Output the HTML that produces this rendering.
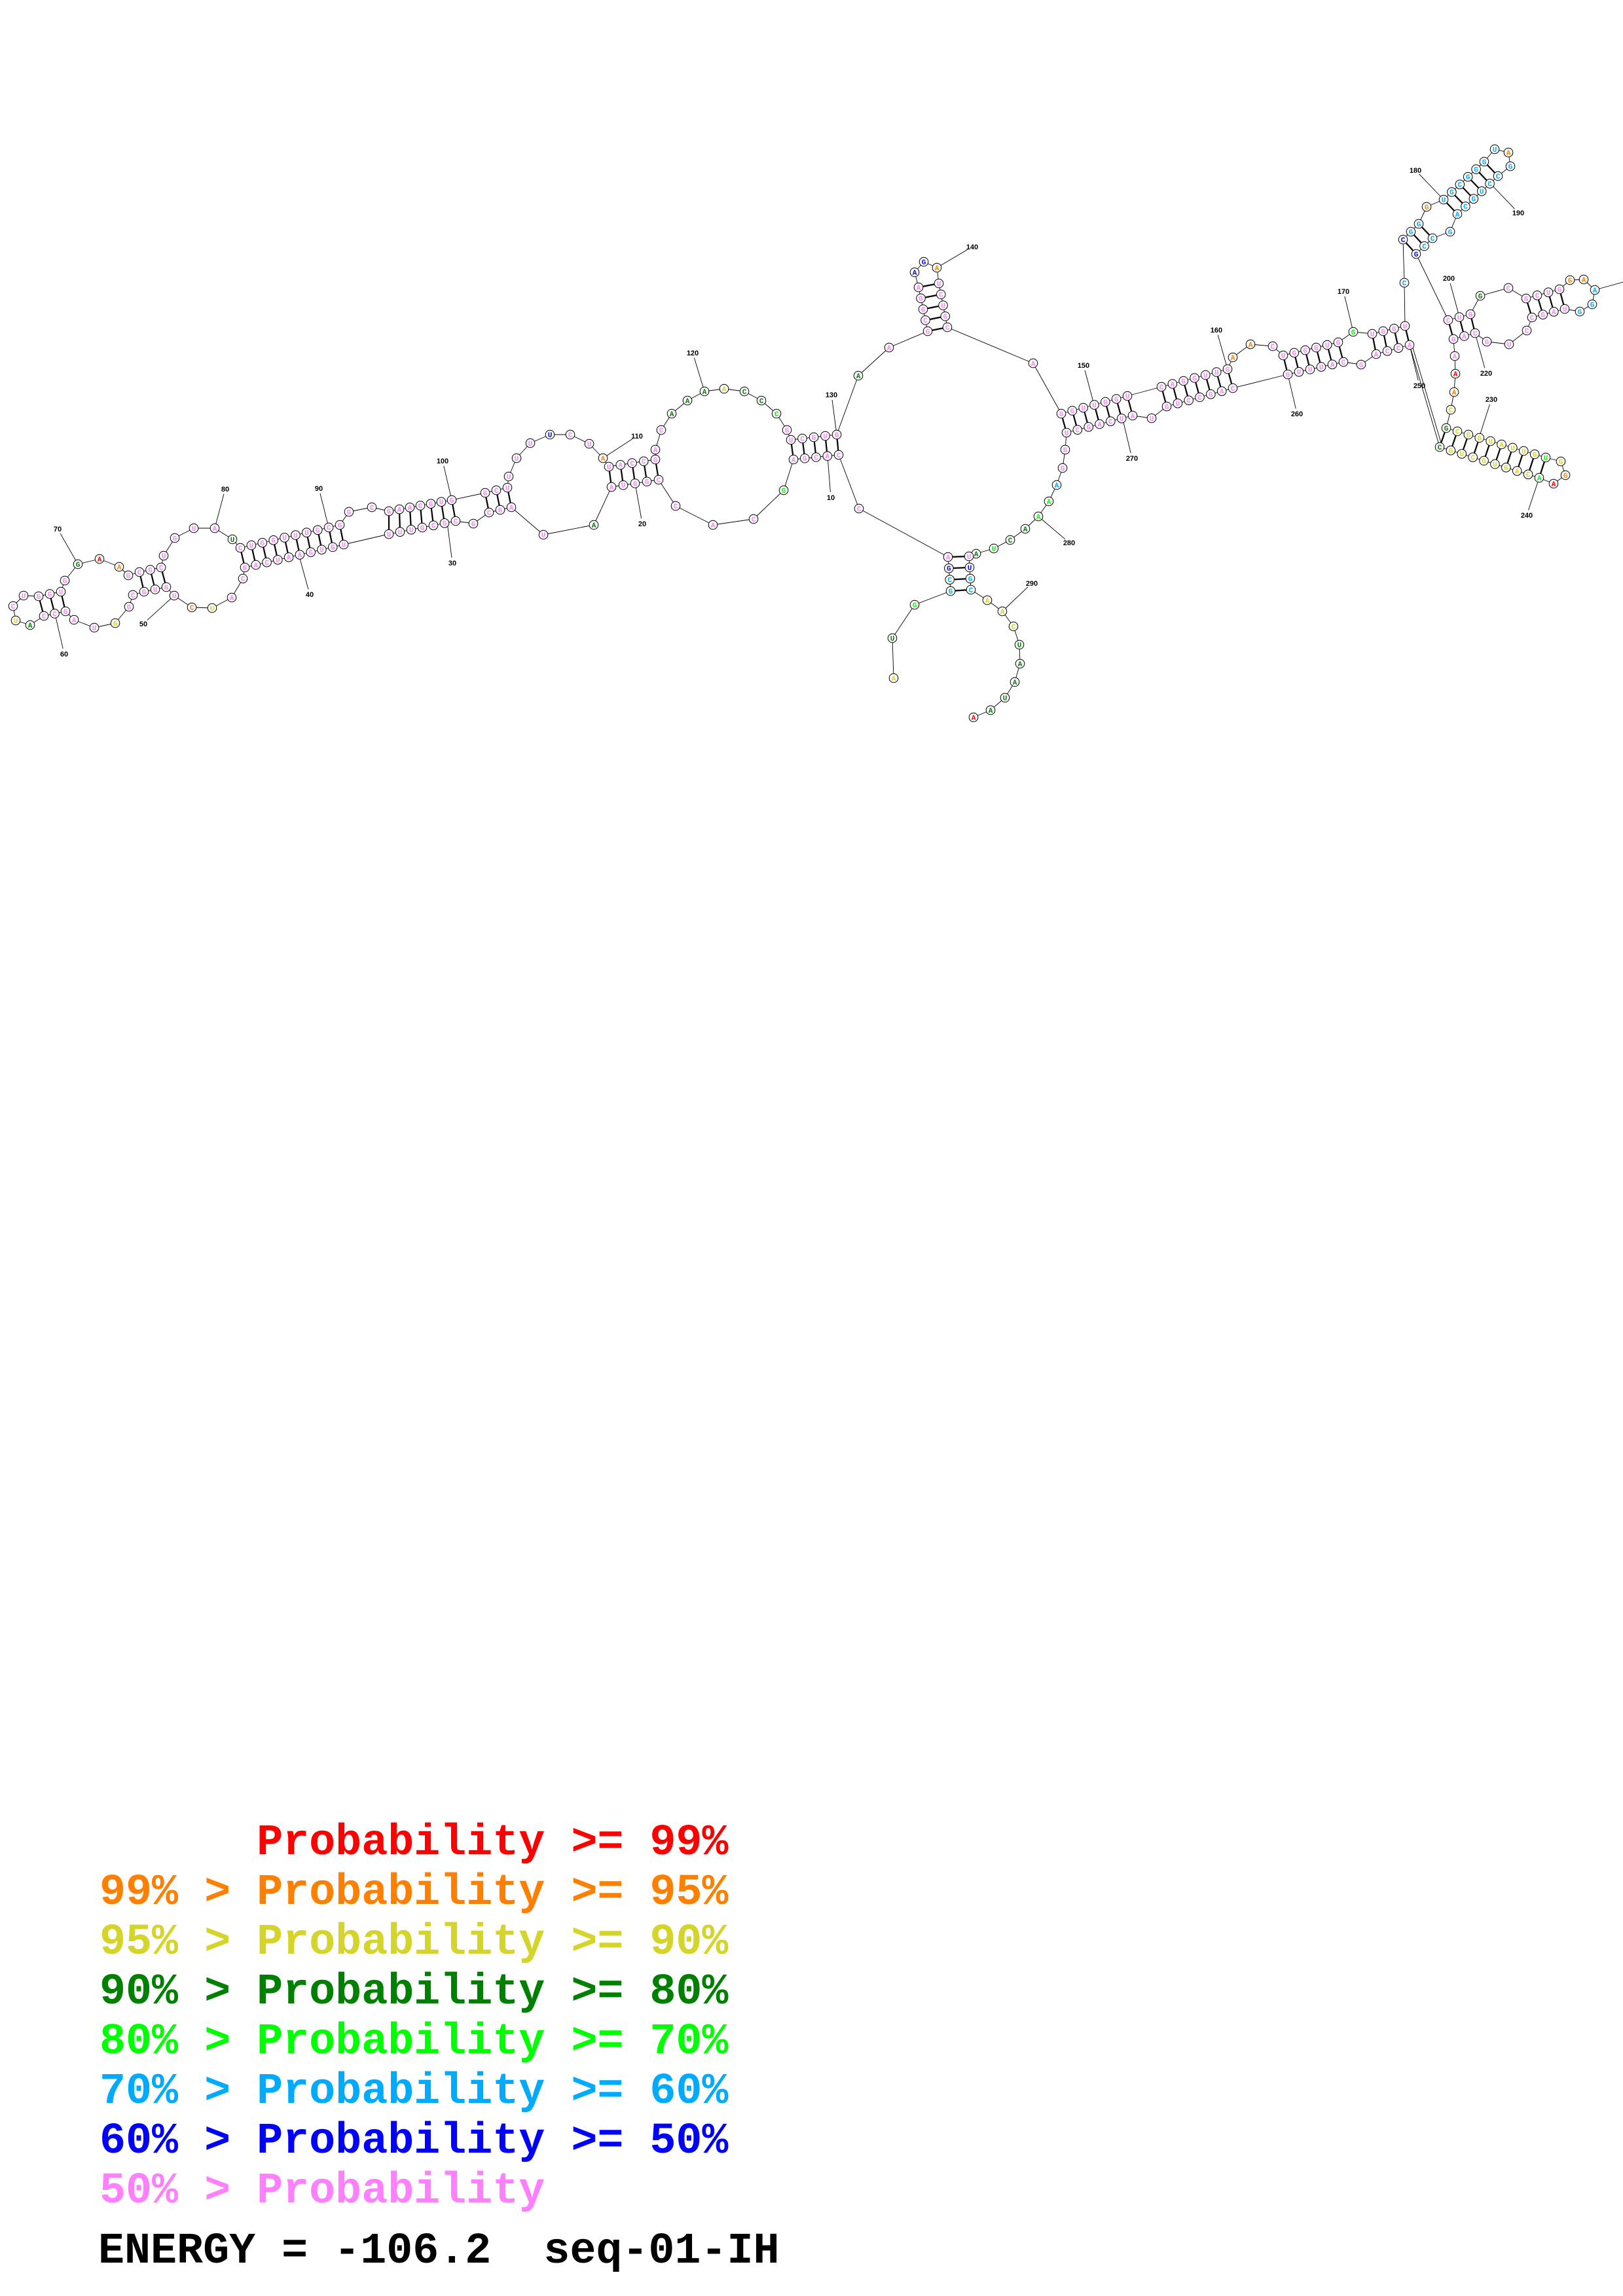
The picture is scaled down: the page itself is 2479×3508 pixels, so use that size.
<!DOCTYPE html>
<html><head><meta charset="utf-8">
<style>
html,body{margin:0;padding:0;background:#fff;}
body{width:2479px;height:3508px;position:relative;overflow:hidden;}
#leg{position:absolute;left:152px;top:0;font-family:"Liberation Mono",monospace;font-weight:bold;font-size:66.7px;white-space:pre;line-height:1;}
#leg div{position:absolute;left:0;}
</style></head><body>
<svg id="s" width="2479" height="1200" style="position:absolute;left:0;top:0" xmlns="http://www.w3.org/2000/svg"></svg>
<div id="leg">
<div style="top:2783px;color:#ff0000">      Probability &gt;= 99%</div>
<div style="top:2859px;color:#ff8000">99% &gt; Probability &gt;= 95%</div>
<div style="top:2935px;color:#d4d42a">95% &gt; Probability &gt;= 90%</div>
<div style="top:3011px;color:#008000">90% &gt; Probability &gt;= 80%</div>
<div style="top:3087px;color:#00ff00">80% &gt; Probability &gt;= 70%</div>
<div style="top:3163px;color:#00aaff">70% &gt; Probability &gt;= 60%</div>
<div style="top:3239px;color:#0000ff">60% &gt; Probability &gt;= 50%</div>
<div style="top:3315px;color:#ff80ff">50% &gt; Probability</div>
<div style="top:3407px;color:#000;left:-2px">ENERGY = -106.2  seq-01-IH</div>
</div>
<script>
var C={r:"#ff0000",o:"#ff8000",y:"#d4d42a",g:"#008000",l:"#00ff00",s:"#00aaff",b:"#0000ff",p:"#ff80ff"};
var seq=[];var groups={};
function N(x,y,L,c){seq.push([x,y,L,c||"p"]);}
function S(name,x1,y1,x2,y2,Ls,cs){var n=Ls.length,arr=[];for(var i=0;i<n;i++){var t=n>1?i/(n-1):0;var nd=[x1+(x2-x1)*t,y1+(y2-y1)*t,Ls[i],cs?cs[i]:"p"];seq.push(nd);arr.push(nd);}groups[name]=arr;}
N(1365,1036,"A","y");N(1363,975,"U","g");N(1397,924,"G","l");
S("H1L",1452,903,1448,851,"GCGA","ssbp");
N(1312,777,"C");
S("H2B",1281,695,1212,702,"CACGA");
N(1197,749,"G","l");N(1151,793,"C");N(1089,802,"A");N(1032,773,"C");
S("H3B",1006,733,934,744,"CGGUA");
N(907,802,"A","g");N(830,817,"U");
S("H4B",781,775,747,783,"AGC");
N(723,800,"G");
S("H5B",696,796,594,816,"CGCGUUU");
S("H6B",525,832,374,867,"UGUGAAUCAG");
N(371,884,"C");N(354,913,"A");N(324,929,"U","y");N(293,928,"C","o");N(266,910,"U");
S("H7B",254,897,220,904,"GUG");
N(203,909,"C");N(197,927,"G");N(176,952,"G","y");N(144,959,"U");N(113,947,"A");
S("H8B",100,934,67,941,"GCC");
N(46,955,"A","g");N(24,948,"U","y");N(20,926,"C");N(36,910,"U");
S("H8T",59,911,93,904,"GGU");
N(99,887,"G");N(119,862,"G","g");N(152,854,"A","r");N(182,866,"A","o");N(196,879,"G");
S("H7T",213,874,246,867,"CGC");
N(250,849,"U");N(267,822,"G");N(296,807,"U");N(328,807,"A");N(355,824,"U","g");
S("H6T",367,837,519,802,"CUGGUUUGCG");
N(533,782,"G");N(568,775,"C");
S("H5T",594,781,690,764,"GAACGUG");
S("H4T",741,753,775,745,"GCU");
N(777,728,"U");N(789,700,"U");N(810,677,"U");N(840,664,"U","b");N(871,664,"C");N(900,678,"U");N(921,700,"A","o");
S("H3T",930,713,1001,702,"UACCG");
N(1001,687,"A");N(1010,657,"C");N(1026,632,"A","g");N(1050,612,"A","g");N(1076,598,"A","g");N(1106,594,"A","y");N(1137,598,"C","g");N(1163,612,"C","g");N(1186,632,"C","l");N(1202,657,"G");
S("H2T",1208,672,1278,664,"UCGUG");
N(1311,574,"A","g");N(1358,531,"A");
S("H9L",1417,506,1403,439,"GCGGA");
N(1397,416,"A","b");N(1411,400,"G","b");N(1431,409,"A","o");
S("H9R",1434,433,1447,500,"UCUGC");
N(1578,555,"A");
S("H10T",1621,632,1722,605,"GGUUGGU");
S("H11T",1774,591,1875,564,"CAGGUUG");
N(1883,546,"A","o");N(1910,526,"A","o");N(1944,529,"C");
S("H12T",1960,543,2044,523,"UGGGUG");
N(2067,507,"G","l");
S("H13T",2096,510,2146,498,"UGGU");
N(2145,432,"C","s");
S("H14L",2143,366,2167,342,"CGG","bss");
N(2179,316,"G","o");
S("H15L",2205,305,2267,247,"UGCGGG","ssssss");
N(2283,228,"U","s");N(2304,233,"A","o");N(2307,254,"G","s");
S("H15R",2288,269,2226,327,"CCUGCA","ssssss");
N(2215,354,"G","s");
S("H14R",2188,364,2163,388,"CCG","ssb");
S("H16T",2212,489,2246,480,"CUG");
N(2261,452,"G","g");N(2304,440,"C");
S("H17T",2331,456,2382,442,"GCUG");
N(2398,428,"G","o");N(2419,427,"A","o");N(2436,443,"A","s");N(2432,465,"G","s");N(2413,476,"G","s");
S("H17B",2390,472,2340,485,"UAGC");
N(2332,505,"C");N(2305,526,"U");N(2271,522,"G");
S("H16B",2253,509,2220,518,"CAG");
N(2222,544,"A");N(2223,571,"A","r");N(2221,599,"A","o");N(2216,626,"C","y");N(2209,654,"G","g");
S("H18T",2226,659,2361,699,"CGGUAUUGU","yyyyyyyyl");
N(2384,705,"G","y");N(2391,726,"G","o");N(2373,739,"A","r");
S("H18B",2351,730,2199,683,"ACAGUGCUGC","lyyyyyyyyg");
S("H13B",2153,527,2102,541,"ACCA");
N(2079,557,"G");
S("H12B",2052,553,1967,572,"CAUUUG");
S("H11B",1883,593,1782,621,"CAGCCUG");
N(1759,639,"U");
S("H10B",1730,635,1629,661,"AUCAGCU");
N(1627,687,"G");N(1623,715,"G");N(1614,741,"A","s");N(1602,766,"A","l");N(1586,789,"A","l");N(1566,808,"A","g");N(1543,825,"C","g");N(1518,838,"U","l");N(1491,846,"A","g");
S("H1R",1480,850,1483,901,"UUGC","pbss");
N(1508,917,"A","y");N(1531,934,"A","y");N(1548,957,"C","y");N(1557,985,"U","g");N(1558,1014,"A","g");N(1550,1042,"A","g");N(1535,1066,"U","g");N(1513,1085,"A","g");N(1487,1096,"A","r");

var svg=document.getElementById("s");var ns="http://www.w3.org/2000/svg";var out="";
function line(a,b,w){out+='<line x1="'+a[0]+'" y1="'+a[1]+'" x2="'+b[0]+'" y2="'+b[1]+'" stroke="#000" stroke-width="'+w+'"/>';}
for(var i=0;i<seq.length-1;i++)line(seq[i],seq[i+1],0.9);
var HP=[["H1L","H1R"],["H2B","H2T"],["H3B","H3T"],["H4B","H4T"],["H5B","H5T"],["H6B","H6T"],["H7B","H7T"],["H8B","H8T"],["H9L","H9R"],["H10T","H10B"],["H11T","H11B"],["H12T","H12B"],["H13T","H13B"],["H14L","H14R"],["H15L","H15R"],["H16T","H16B"],["H17T","H17B"]];
HP.forEach(function(p){var A=groups[p[0]],B=groups[p[1]],n=A.length;for(var i=0;i<n;i++)line(A[i],B[n-1-i],2.2);});
var T=groups.H18T,B=groups.H18B;for(var j=0;j<9;j++)line(B[j],T[8-j],2.2);line(B[9],[2209,654],2.2);
line([2157,528],[2203,683],0.9);line([2436,443],[2479,431],0.9);
var labs=[["100",676,704,690,764],["30",691,860,683,798],["40",473,908,456,846],["50",219,953,266,910],["60",98,999,84,938],["70",88,808,119,862],["80",344,747,328,807],["90",487,746,502,806],["110",973,666,921,700],["120",1058,539,1076,598],["130",1270,603,1278,664],["10",1269,760,1264,697],["20",981,800,970,738],["140",1485,377,1431,409],["150",1655,558,1671,618],["270",1729,700,1714,637],["280",1633,829,1586,789],["290",1576,891,1531,934],["160",1858,504,1875,564],["170",2052,445,2067,507],["260",1981,632,1967,572],["250",2168,589,2153,527],["180",2162,260,2205,305],["190",2319,325,2276,280],["200",2213,425,2229,484],["220",2270,570,2253,509],["230",2278,610,2259,669],["240",2332,787,2351,730]];
labs.forEach(function(l){var dx=l[3]-l[1],dy=l[4]-l[2],d=Math.sqrt(dx*dx+dy*dy);var sx=l[1]+dx*8/d,sy=l[2]+dy*8/d;line([sx,sy],[l[3],l[4]],0.9);
out+='<text x="'+l[1]+'" y="'+(l[2]+4)+'" font-family="Liberation Sans, sans-serif" font-weight="bold" font-size="11" text-anchor="middle">'+l[0]+'</text>';});
seq.forEach(function(n){out+='<circle cx="'+n[0]+'" cy="'+n[1]+'" r="6.8" fill="#fff" stroke="#000" stroke-width="1"/>';
out+='<text x="'+n[0]+'" y="'+(n[1]+3.8)+'" font-family="Liberation Mono, monospace" font-weight="bold" font-size="11" text-anchor="middle" fill="'+C[n[3]]+'">'+n[2]+'</text>';});
svg.innerHTML=out;
</script>
</body></html>
